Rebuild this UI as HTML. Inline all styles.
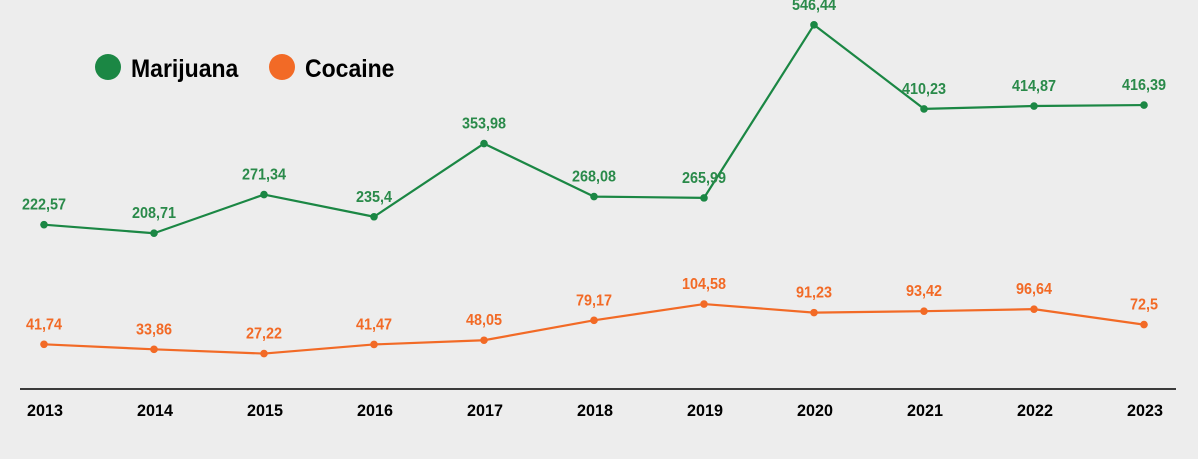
<!DOCTYPE html>
<html><head><meta charset="utf-8"><style>
html,body{margin:0;padding:0;background:#ededed;}
svg{display:block;}
text{font-family:"Liberation Sans Narrow","Liberation Sans",sans-serif;font-weight:bold;}
</style></head><body>
<svg id="chart" width="1198" height="459" viewBox="0 0 1198 459">
<rect width="1198" height="459" fill="#ededed"/>
<g>
<circle cx="108" cy="67" r="13" fill="#1b8744"/>
<text transform="translate(131 77) scale(0.92 1)" font-size="25" fill="#000">Marijuana</text>
<circle cx="282" cy="67" r="13" fill="#f26a26"/>
<text transform="translate(305 77) scale(0.92 1)" font-size="25" fill="#000">Cocaine</text>
</g>
<line x1="20" y1="389" x2="1176" y2="389" stroke="#000" stroke-width="1.5"/>
<g id="marks"></g>
</svg>
<script>
const years = ["2013","2014","2015","2016","2017","2018","2019","2020","2021","2022","2023"];
const marijuana = [222.57,208.71,271.34,235.4,353.98,268.08,265.99,546.44,410.23,414.87,416.39];
const cocaine = [41.74,33.86,27.22,41.47,48.05,79.17,104.58,91.23,93.42,96.64,72.5];
const marijuanaLabels = ["222,57","208,71","271,34","235,4","353,98","268,08","265,99","546,44","410,23","414,87","416,39"];
const cocaineLabels = ["41,74","33,86","27,22","41,47","48,05","79,17","104,58","91,23","93,42","96,64","72,5"];

const NS = "http://www.w3.org/2000/svg";
const g = document.getElementById('marks');
function xPos(i){ return 44 + i * 110; }
function yMar(v){ return 362 - v * 0.617; }
function yCoc(v){ return 371 - v * 0.64; }
function mk(tag, attrs){ const e = document.createElementNS(NS, tag); for (const k in attrs) e.setAttribute(k, attrs[k]); g.appendChild(e); return e; }

years.forEach((y, i) => {
  const t = mk('text', {transform: 'translate(' + (xPos(i) + 1) + ' 416) scale(0.95 1)', 'font-size': 17, fill: '#000', 'text-anchor': 'middle'});
  t.textContent = y;
  
  
});

function series(vals, labels, yf, color, labelColor, name){
  const pts = vals.map((v, i) => xPos(i) + ',' + yf(v)).join(' ');
  const pl = mk('polyline', {points: pts, fill: 'none', stroke: color, 'stroke-width': 2.2, 'stroke-linejoin': 'round'});
  
  
  vals.forEach((v, i) => {
    const c = mk('circle', {cx: xPos(i), cy: yf(v), r: 3.8, fill: color});
    
    
    const t = mk('text', {transform: 'translate(' + xPos(i) + ' ' + (yf(v) - 15) + ') scale(0.9 1)', 'font-size': 16, fill: labelColor, 'text-anchor': 'middle'});
    t.textContent = labels[i];
    
    
  });
}
series(marijuana, marijuanaLabels, yMar, '#1b8744', '#2a8a4a', 'marijuana');
series(cocaine, cocaineLabels, yCoc, '#f26a26', '#f26a26', 'cocaine');
</script>
</body></html>
